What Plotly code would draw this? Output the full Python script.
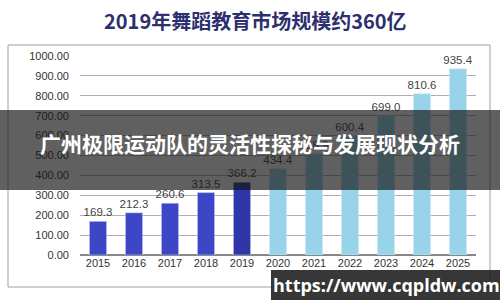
import plotly.graph_objects as go

years = ["2015", "2016", "2017", "2018", "2019", "2020", "2021", "2022", "2023", "2024", "2025"]
values = [169.3, 212.3, 260.6, 313.5, 366.2, 434.4, 508.9, 600.4, 699.0, 810.6, 935.4]
value_labels = ["169.3", "212.3", "260.6", "313.5", "366.2", "434.4", "508.9", "600.4", "699.0", "810.6", "935.4"]
title_text = "2019年舞蹈教育市场规模约360亿"
banner_text = "广州极限运动队的灵活性探秘与发展现状分析"
watermark_text = "https://www.cqpldw.com"

colors = ["#3d46c6"] * 4 + ["#2f36a8"] + ["#97d4ea"] * 6

fig = go.Figure()
fig.add_trace(go.Bar(
    x=years, y=values, marker_color=colors, width=0.48,
    text=value_labels, textposition="outside", cliponaxis=False, constraintext="none",
    textfont=dict(family="Liberation Sans, Arial", size=11.5, color="#444"),
))

L, R, T, B = 80, 24, 56, 45
pw, ph = 500 - L - R, 300 - T - B

def px(x):
    return (x - L) / pw

def py(y):
    return (300 - B - y) / ph

shapes = [
    dict(type="rect", xref="paper", yref="paper", x0=px(8), x1=px(490), y0=py(287), y1=py(45),
         line=dict(color="#a0a0a0", width=1), fillcolor="rgba(0,0,0,0)", layer="below"),
    dict(type="rect", xref="paper", yref="paper", x0=px(0), x1=px(500), y0=py(190), y1=py(110),
         line=dict(width=0), fillcolor="rgba(20,20,20,0.68)", layer="above"),
    dict(type="rect", xref="paper", yref="paper", x0=px(271), x1=px(500), y0=py(300), y1=py(270),
         line=dict(width=0), fillcolor="rgba(20,20,20,0.85)", layer="above"),
]

annotations = [
    dict(text="<b>" + title_text + "</b>", xref="paper", yref="paper", x=px(255), y=py(20), showarrow=False,
         font=dict(family="Noto Sans CJK SC", size=20, color="#2d2f6e"), xanchor="center", yanchor="middle"),
    dict(text="<b>" + banner_text + "</b>", xref="paper", yref="paper", x=px(250), y=py(143), showarrow=False,
         font=dict(family="Noto Sans CJK SC", size=21, color="white"), xanchor="center", yanchor="middle"),
    dict(text="<b>" + watermark_text + "</b>", xref="paper", yref="paper", x=px(386), y=py(285), showarrow=False,
         font=dict(family="Open Sans", size=18, color="white"), xanchor="center", yanchor="middle"),
]

fig.update_layout(
    width=500, height=300, margin=dict(l=L, r=R, t=T, b=B),
    paper_bgcolor="white", plot_bgcolor="white", showlegend=False,
    shapes=shapes, annotations=annotations, bargap=0.52,
    font=dict(family="Liberation Sans, Arial", size=11, color="#333"),
)
fig.update_yaxes(range=[0, 1000], dtick=100, tickformat=".2f", showgrid=True, gridcolor="#b0b0b0",
                 gridwidth=1, zeroline=True, zerolinecolor="#888", showline=False, ticks="",
                 tickfont=dict(size=11, color="#333"), ticklabelstandoff=10)
fig.update_xaxes(showgrid=False, showline=False, ticks="", tickfont=dict(size=11, color="#333"))

fig.write_html("out.html")
